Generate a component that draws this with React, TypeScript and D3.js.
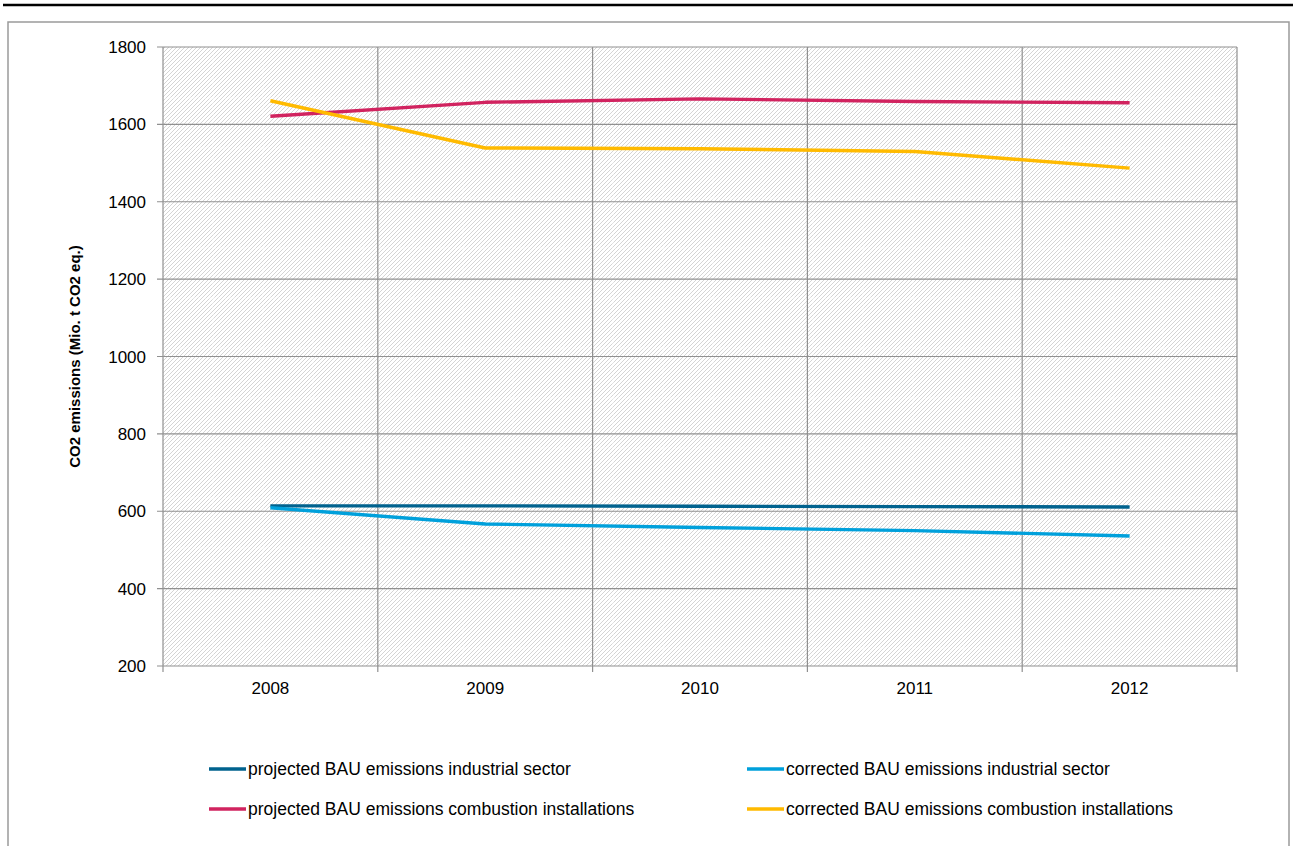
import React from "react";
import * as d3 from "d3";

const years = ["2008", "2009", "2010", "2011", "2012"];
const projectedIndustrial = [614, 614, 613, 612, 611];
const correctedIndustrial = [609, 567, 558, 550, 536];
const projectedCombustion = [1621, 1657, 1666, 1659, 1656];
const correctedCombustion = [1661, 1539, 1537, 1530, 1487];
const yTicks = [200, 400, 600, 800, 1000, 1200, 1400, 1600, 1800];

const seriesNames = [
  "projected BAU emissions industrial sector",
  "corrected BAU emissions industrial sector",
  "projected BAU emissions combustion installations",
  "corrected BAU emissions combustion installations",
];
const seriesColors = ["#00628E", "#00A0DB", "#D1235F", "#FFBA00"];
const seriesValues = [projectedIndustrial, correctedIndustrial, projectedCombustion, correctedCombustion];

const W = 1293;
const H = 846;
const plot = { left: 163, right: 1237, top: 47, bottom: 666 };
const FONT = "'Liberation Sans', Arial, sans-serif";

export default function App() {
  const x = d3.scaleBand<string>().domain(years).range([plot.left, plot.right]).padding(0);
  const y = d3.scaleLinear().domain([200, 1800]).range([plot.bottom, plot.top]);
  const line = d3
    .line<number>()
    .x((_, i) => (x(years[i]) as number) + x.bandwidth() / 2)
    .y((d) => y(d));

  const boundaries = years.map((yr) => x(yr) as number).concat([plot.right]);

  const seamsX: number[] = [];
  for (let sx = 213; sx < plot.right; sx += 50) seamsX.push(sx);
  const seamsY: number[] = [];
  for (let sy = 98; sy < plot.bottom; sy += 50) seamsY.push(sy);

  const legendCols = [209, 747];
  const legendRows = [769, 809];

  return (
    <svg
      width={W}
      height={H}
      style={{ position: "absolute", left: 0, top: 0, background: "#fff" }}
      fontFamily={FONT}
    >
      <defs>
        <pattern id="hatch" patternUnits="userSpaceOnUse" width={4} height={4}>
          <rect width={4} height={4} fill="#ffffff" />
          <path d="M-1,1 L1,-1 M0,4 L4,0 M3,5 L5,3" stroke="#d4d4d4" strokeWidth={1} />
        </pattern>
      </defs>

      {/* top rule */}
      <line x1={3} x2={1293} y1={5} y2={5} stroke="#000" strokeWidth={2.5} />
      {/* chart box */}
      <rect x={8} y={22} width={1281} height={H} fill="#fff" stroke="#9a9a9a" strokeWidth={1.5} />

      {/* plot area */}
      <rect x={plot.left} y={plot.top} width={plot.right - plot.left} height={plot.bottom - plot.top} fill="url(#hatch)" />
      {seamsX.map((sx) => (
        <line key={"sx" + sx} x1={sx} x2={sx} y1={plot.top} y2={plot.bottom} stroke="#fff" strokeOpacity={0.6} strokeDasharray="3,2" />
      ))}
      {seamsY.map((sy) => (
        <line key={"sy" + sy} x1={plot.left} x2={plot.right} y1={sy} y2={sy} stroke="#fff" strokeOpacity={0.6} strokeDasharray="3,2" />
      ))}

      {/* gridlines */}
      {yTicks.map((t) => (
        <line key={"gy" + t} x1={plot.left - 6} x2={plot.right} y1={y(t)} y2={y(t)} stroke="#909090" strokeWidth={1.2} />
      ))}
      {boundaries.map((bx, i) => (
        <line key={"gx" + i} x1={bx} x2={bx} y1={plot.top} y2={plot.bottom + 6} stroke="#909090" strokeWidth={1.2} />
      ))}

      {/* y tick labels */}
      {yTicks.map((t) => (
        <text key={"ty" + t} x={146} y={y(t)} dy="0.36em" textAnchor="end" fontSize={17} fill="#000">
          {t}
        </text>
      ))}
      {/* x tick labels */}
      {years.map((yr) => (
        <text
          key={"tx" + yr}
          x={(x(yr) as number) + x.bandwidth() / 2}
          y={694}
          textAnchor="middle"
          fontSize={17}
          fill="#000"
        >
          {yr}
        </text>
      ))}

      {/* y axis title */}
      <text
        transform={`translate(80, ${(plot.top + plot.bottom) / 2}) rotate(-90)`}
        textAnchor="middle"
        fontSize={15}
        fontWeight="bold"
        fill="#000"
      >
        CO2 emissions (Mio. t CO2 eq.)
      </text>

      {/* series lines */}
      {seriesValues.map((vals, i) => (
        <path key={"s" + i} d={line(vals) || ""} fill="none" stroke={seriesColors[i]} strokeWidth={3.4} strokeLinejoin="round" />
      ))}

      {/* legend */}
      {seriesNames.map((name, i) => {
        const lx = legendCols[i % 2];
        const ly = legendRows[Math.floor(i / 2)];
        return (
          <g key={"lg" + i}>
            <line x1={lx} x2={lx + 37} y1={ly} y2={ly} stroke={seriesColors[i]} strokeWidth={3.4} />
            <text x={lx + 39} y={ly} dy="0.36em" fontSize={17.5} fill="#000">
              {name}
            </text>
          </g>
        );
      })}
    </svg>
  );
}
